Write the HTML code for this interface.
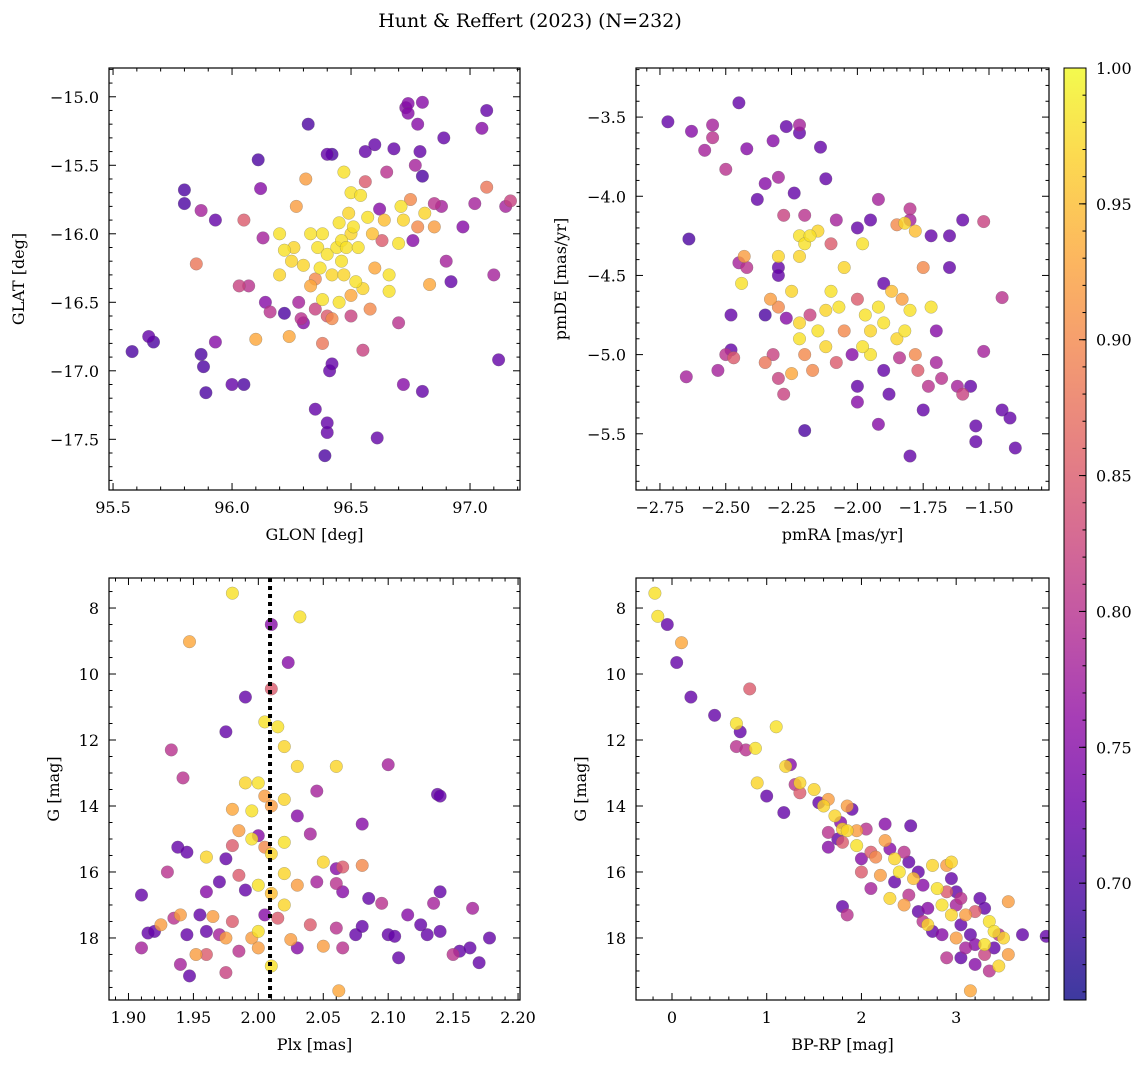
<!DOCTYPE html>
<html><head><meta charset="utf-8"><style>
body{margin:0;background:#fff;}
svg text{font-family:"DejaVu Serif","Liberation Serif",serif;fill:#000;}
</style></head><body>
<svg id="fig" width="1148" height="1067" xmlns="http://www.w3.org/2000/svg">
<text x="530" y="27" font-size="19" text-anchor="middle">Hunt &amp; Reffert (2023) (N=232)</text>
</svg>
<script>
// ---- data arrays: [x, y, membership probability] ----
const skyData = [[95.58,-16.86,.7],[95.65,-16.75,.72],[95.67,-16.79,.7],[95.8,-15.68,.7],[95.8,-15.78,.7],[95.85,-16.22,.88],[95.87,-15.83,.78],[95.87,-16.88,.7],[95.88,-16.97,.7],[95.89,-17.16,.7],[95.93,-16.79,.75],[95.93,-15.9,.72],[96.0,-17.1,.72],[96.05,-17.1,.7],[96.05,-15.9,.85],[96.03,-16.38,.82],[96.07,-16.38,.8],[96.1,-16.77,.93],[96.11,-15.46,.7],[96.12,-15.67,.75],[96.13,-16.03,.78],[96.14,-16.5,.75],[96.16,-16.57,.8],[96.2,-16.3,.97],[96.2,-16.0,.98],[96.22,-16.58,.7],[96.24,-16.75,.93],[96.25,-16.2,.97],[96.26,-16.1,.97],[96.27,-15.8,.92],[96.28,-16.5,.78],[96.29,-16.62,.8],[96.3,-16.65,.75],[96.3,-16.23,.97],[96.31,-15.6,.92],[96.32,-15.2,.7],[96.33,-16.0,.98],[96.33,-16.38,.93],[96.35,-16.33,.9],[96.35,-16.55,.82],[96.35,-17.28,.72],[96.36,-16.1,.98],[96.37,-16.25,.98],[96.38,-16.48,.98],[96.38,-16.0,.98],[96.38,-16.8,.88],[96.4,-16.15,.98],[96.4,-16.6,.85],[96.4,-15.42,.72],[96.42,-15.42,.7],[96.42,-16.62,.9],[96.4,-17.45,.72],[96.4,-17.38,.72],[96.39,-17.62,.7],[96.41,-17.0,.72],[96.42,-16.95,.72],[96.42,-16.3,.97],[96.44,-16.1,.98],[96.45,-15.92,.98],[96.46,-16.05,.98],[96.45,-16.5,.98],[96.46,-16.2,.98],[96.47,-16.3,.97],[96.47,-15.55,.98],[96.48,-16.1,.98],[96.49,-15.85,.97],[96.5,-15.7,.98],[96.5,-16.0,.97],[96.5,-16.45,.93],[96.5,-16.6,.82],[96.51,-15.95,.98],[96.52,-16.35,.98],[96.53,-16.1,.98],[96.54,-15.72,.98],[96.55,-16.4,.97],[96.55,-16.85,.82],[96.56,-15.4,.72],[96.56,-15.62,.85],[96.57,-15.88,.98],[96.58,-16.55,.9],[96.59,-16.0,.95],[96.6,-16.25,.93],[96.6,-15.35,.72],[96.61,-17.49,.72],[96.62,-15.82,.75],[96.63,-16.05,.85],[96.64,-15.9,.95],[96.65,-15.55,.8],[96.66,-16.3,.98],[96.66,-16.42,.98],[96.68,-15.38,.72],[96.7,-16.07,.98],[96.7,-16.65,.8],[96.71,-15.8,.98],[96.72,-15.9,.97],[96.72,-17.1,.75],[96.73,-15.08,.75],[96.74,-15.05,.75],[96.74,-15.12,.75],[96.75,-15.75,.9],[96.76,-16.05,.75],[96.77,-15.5,.78],[96.78,-15.2,.75],[96.78,-15.95,.9],[96.79,-15.4,.72],[96.8,-15.58,.7],[96.8,-17.15,.72],[96.8,-15.04,.75],[96.81,-15.85,.97],[96.83,-16.37,.93],[96.85,-15.95,.92],[96.85,-15.78,.8],[96.88,-15.8,.78],[96.89,-15.3,.72],[96.9,-16.2,.78],[96.92,-16.35,.72],[96.97,-15.95,.75],[97.02,-15.78,.78],[97.05,-15.23,.75],[97.07,-15.1,.72],[97.07,-15.66,.88],[97.1,-16.3,.78],[97.12,-16.92,.72],[97.15,-15.8,.78],[97.17,-15.76,.82],[96.22,-16.12,.98]];
const pmData = [[-2.72,-3.53,.72],[-2.63,-3.59,.75],[-2.58,-3.71,.78],[-2.55,-3.55,.78],[-2.55,-3.63,.8],[-2.45,-3.41,.72],[-2.42,-3.7,.75],[-2.5,-3.83,.8],[-2.38,-4.02,.72],[-2.35,-3.92,.75],[-2.32,-3.65,.75],[-2.3,-3.88,.78],[-2.27,-3.56,.72],[-2.22,-3.55,.78],[-2.22,-3.6,.72],[-2.24,-3.98,.72],[-2.14,-3.69,.72],[-2.12,-3.89,.72],[-2.64,-4.27,.7],[-2.45,-4.42,.78],[-2.43,-4.38,.92],[-2.44,-4.55,.98],[-2.42,-4.45,.8],[-2.28,-4.12,.82],[-2.3,-4.38,.97],[-2.3,-4.45,.72],[-2.3,-4.5,.72],[-2.2,-4.12,.8],[-2.22,-4.25,.98],[-2.2,-4.3,.98],[-2.18,-4.25,.98],[-2.15,-4.22,.97],[-2.22,-4.38,.97],[-2.1,-4.3,.85],[-2.08,-4.15,.78],[-2.0,-4.2,.72],[-1.98,-4.3,.98],[-2.05,-4.45,.97],[-1.95,-4.15,.72],[-1.92,-4.02,.78],[-1.85,-4.18,.9],[-1.82,-4.17,.97],[-1.8,-4.08,.8],[-1.8,-4.15,.78],[-1.78,-4.22,.95],[-1.75,-4.45,.9],[-1.72,-4.25,.72],[-1.65,-4.25,.72],[-1.6,-4.15,.72],[-1.52,-4.16,.82],[-1.65,-4.45,.72],[-1.45,-4.64,.8],[-2.48,-4.75,.72],[-2.48,-4.97,.72],[-2.5,-5.0,.8],[-2.47,-5.02,.85],[-2.53,-5.1,.78],[-2.65,-5.14,.78],[-2.35,-4.75,.7],[-2.33,-4.65,.92],[-2.3,-4.7,.9],[-2.32,-5.0,.82],[-2.3,-5.15,.82],[-2.27,-4.77,.75],[-2.25,-4.6,.97],[-2.22,-4.8,.97],[-2.22,-4.9,.98],[-2.18,-4.75,.82],[-2.2,-5.0,.9],[-2.17,-5.1,.9],[-2.15,-4.85,.98],[-2.12,-4.95,.97],[-2.1,-4.6,.98],[-2.07,-4.7,.98],[-2.05,-4.85,.9],[-2.0,-4.65,.85],[-2.02,-5.0,.75],[-2.0,-5.2,.72],[-2.0,-5.3,.75],[-1.97,-4.75,.98],[-1.95,-4.85,.97],[-1.95,-5.0,.98],[-1.92,-4.7,.98],[-1.9,-4.8,.98],[-1.9,-5.1,.72],[-1.88,-5.25,.72],[-1.85,-4.9,.97],[-1.83,-4.65,.92],[-1.82,-4.85,.98],[-1.8,-4.72,.98],[-1.78,-5.0,.9],[-1.77,-5.1,.85],[-1.75,-5.35,.72],[-1.72,-4.7,.98],[-1.7,-4.85,.75],[-1.7,-5.05,.78],[-1.68,-5.15,.8],[-1.62,-5.2,.78],[-1.6,-5.25,.82],[-1.57,-5.2,.72],[-1.55,-5.45,.72],[-1.55,-5.55,.72],[-1.52,-4.98,.78],[-1.45,-5.35,.72],[-1.42,-5.4,.72],[-1.4,-5.59,.72],[-1.8,-5.64,.72],[-2.2,-5.48,.7],[-1.92,-5.44,.75],[-2.08,-5.05,.85],[-1.98,-4.95,.98],[-2.12,-4.72,.97],[-1.9,-4.55,.72],[-1.87,-4.6,.95],[-2.25,-5.12,.93],[-2.35,-5.05,.88],[-2.28,-5.25,.82],[-1.73,-5.2,.8],[-1.84,-5.02,.8]];
const plxData = [[1.98,7.55,.98],[1.947,9.02,.93],[2.032,8.27,.98],[2.01,8.5,.75],[2.023,9.65,.75],[1.99,10.7,.72],[2.01,10.45,.85],[2.005,11.45,.98],[1.975,11.75,.72],[2.015,11.6,.98],[1.933,12.3,.8],[2.02,12.2,.97],[2.03,12.8,.97],[2.06,12.8,.97],[2.1,12.75,.78],[1.942,13.15,.8],[1.99,13.3,.97],[2.0,13.3,.98],[2.005,13.7,.92],[2.02,13.8,.97],[2.045,13.55,.78],[2.138,13.65,.72],[2.14,13.7,.72],[1.98,14.1,.93],[1.995,14.15,.98],[2.01,14.0,.92],[2.03,14.3,.75],[2.08,14.55,.75],[1.938,15.25,.72],[1.945,15.4,.72],[1.96,15.55,.97],[1.975,15.6,.72],[1.98,15.2,.85],[1.985,14.75,.92],[1.995,15.0,.98],[2.0,14.9,.75],[2.005,15.25,.9],[2.01,15.45,.97],[2.02,15.1,.98],[2.04,14.85,.78],[2.05,15.7,.97],[2.065,15.85,.85],[2.08,15.8,.9],[2.06,15.9,.75],[1.93,16.0,.8],[1.96,16.6,.75],[1.97,16.3,.72],[1.985,16.1,.85],[1.99,16.55,.72],[2.0,16.4,.98],[2.01,16.65,.95],[2.02,16.05,.97],[2.03,16.4,.92],[2.045,16.3,.78],[2.06,16.35,.8],[2.065,16.6,.75],[2.085,16.8,.72],[1.91,16.7,.72],[1.915,17.85,.72],[1.92,17.8,.72],[1.925,17.6,.92],[1.935,17.4,.8],[1.94,17.3,.92],[1.945,17.9,.72],[1.952,18.5,.92],[1.955,17.3,.72],[1.96,17.8,.72],[1.965,17.35,.92],[1.97,17.9,.78],[1.975,18.0,.92],[1.98,17.5,.85],[1.985,18.4,.8],[1.995,18.0,.92],[2.0,17.8,.98],[2.005,17.3,.75],[2.01,18.85,.98],[2.015,17.4,.85],[2.02,17.0,.97],[2.025,18.05,.92],[2.03,18.3,.75],[2.04,17.6,.85],[2.05,18.25,.92],[2.06,17.7,.8],[2.065,18.3,.8],[2.062,19.6,.93],[2.075,17.9,.72],[2.08,17.65,.72],[2.095,16.95,.8],[2.1,17.9,.72],[2.108,18.6,.72],[2.115,17.3,.75],[2.125,17.6,.72],[2.13,17.9,.72],[2.135,16.95,.78],[2.14,17.8,.72],[2.15,18.5,.8],[2.155,18.4,.72],[2.163,18.3,.72],[2.165,17.1,.78],[2.17,18.75,.72],[2.178,18.0,.72],[1.91,18.3,.78],[1.94,18.8,.78],[1.947,19.15,.72],[1.975,19.05,.82],[2.0,18.3,.92],[1.96,18.5,.85],[2.14,16.6,.72],[2.105,17.95,.72]];
const cmdData = [[-0.18,7.55,.98],[-0.15,8.25,.98],[-0.05,8.5,.72],[0.1,9.05,.93],[0.05,9.65,.72],[0.2,10.7,.72],[0.82,10.45,.85],[0.45,11.25,.72],[0.68,11.5,.98],[0.72,11.75,.72],[1.1,11.6,.98],[0.68,12.2,.8],[0.78,12.3,.8],[0.88,12.25,.98],[1.25,12.75,.75],[1.2,12.8,.97],[0.9,13.3,.97],[1.3,13.35,.8],[1.35,13.3,.97],[1.0,13.7,.72],[1.35,13.6,.85],[1.5,13.5,.97],[1.18,14.2,.72],[1.55,13.9,.72],[1.65,13.8,.92],[1.6,14.0,.97],[1.72,14.3,.97],[1.85,14.0,.92],[1.9,14.1,.72],[1.78,14.5,.75],[1.65,14.8,.8],[1.75,15.0,.72],[1.8,14.7,.97],[1.85,14.75,.97],[1.95,14.75,.92],[2.05,14.7,.8],[2.25,14.55,.75],[2.52,14.6,.72],[1.65,15.25,.75],[1.8,15.1,.85],[1.95,15.2,.98],[2.0,15.6,.75],[2.1,15.4,.85],[2.15,15.55,.9],[2.25,15.05,.92],[2.3,15.3,.75],[2.35,15.6,.97],[2.45,15.4,.8],[2.5,15.7,.72],[2.6,16.0,.72],[2.2,16.1,.92],[2.4,16.0,.98],[2.55,16.2,.95],[2.65,16.4,.75],[2.75,15.8,.97],[2.9,15.8,.92],[2.8,16.5,.98],[2.9,16.6,.85],[2.95,16.2,.72],[3.0,16.6,.72],[3.05,16.8,.8],[2.3,16.8,.97],[2.45,17.0,.92],[2.6,17.2,.72],[2.7,17.1,.75],[2.75,17.8,.72],[2.85,17.0,.98],[2.95,17.3,.97],[3.0,17.0,.78],[3.05,17.6,.72],[3.1,17.3,.92],[3.15,17.9,.72],[3.2,17.2,.85],[3.25,16.8,.72],[3.3,17.1,.72],[3.35,17.5,.98],[3.4,17.8,.98],[3.45,17.9,.8],[3.5,18.0,.97],[3.55,18.5,.92],[3.55,16.9,.92],[3.7,17.9,.72],[3.95,17.95,.72],[3.1,18.3,.78],[3.2,18.8,.75],[3.3,18.5,.82],[3.35,19.0,.8],[3.45,18.85,.97],[3.15,19.6,.93],[3.05,18.6,.72],[2.9,18.6,.8],[1.85,17.3,.8],[1.8,17.05,.72],[2.0,16.0,.85],[2.1,16.5,.78],[2.35,16.3,.72],[2.5,16.7,.8],[2.65,17.5,.8],[2.7,17.6,.97],[2.85,17.9,.75],[3.0,18.0,.92],[3.2,18.2,.75],[3.3,18.2,.98],[3.4,18.3,.72],[2.95,15.7,.97]];
const plxLine = [2.009];
const cbTicks = [0.70,0.75,0.80,0.85,0.90,0.95,1.00];

const NS='http://www.w3.org/2000/svg';
const svg=document.getElementById('fig');
function mk(tag,attrs,parent){const e=document.createElementNS(NS,tag);for(const k in attrs)e.setAttribute(k,attrs[k]);(parent||svg).appendChild(e);return e;}
const VMIN=0.657,VMAX=1.0;
const stops=['#0d0887','#41049d','#6a00a8','#8f0da4','#b12a90','#cc4778','#e16462','#f2844b','#fca636','#fcce25','#f0f921'];
function hx(h){return [1,3,5].map(i=>parseInt(h.substr(i,2),16));}
function cmap(v){let t=(v-VMIN)/(VMAX-VMIN);t=Math.max(0,Math.min(1,t));const f=t*10,i=Math.min(9,Math.floor(f)),r=f-i;const a=hx(stops[i]),b=hx(stops[i+1]);return 'rgb('+a.map((c,k)=>Math.round(c+(b[k]-c)*r)).join(',')+')';}
function fmt(v,d){return (v<-1e-9?'\u2212':'')+Math.abs(v).toFixed(d);}

function panel(o){
  const g=mk('g',{});
  
  
  const X=v=>o.x0+(v-o.xmin)/(o.xmax-o.xmin)*o.w;
  const Y=o.inv?(v=>o.y0+(v-o.ymin)/(o.ymax-o.ymin)*o.h):(v=>o.y0+(o.ymax-v)/(o.ymax-o.ymin)*o.h);
  const pts=o.data.slice().sort((a,b)=>a[2]-b[2]);
  const clip='c'+o.name;
  const cp=mk('clipPath',{id:clip},g);mk('rect',{x:o.x0,y:o.y0,width:o.w,height:o.h},cp);
  const pg=mk('g',{'clip-path':'url(#'+clip+')'},g);
  pts.forEach(p=>{const c=mk('circle',{cx:X(p[0]).toFixed(1),cy:Y(p[1]).toFixed(1),r:6.3,fill:cmap(p[2]),'fill-opacity':0.8,stroke:'#666','stroke-opacity':0.5,'stroke-width':0.5},pg);
    
    });
  if(o.vline){o.vline.forEach(v=>{const l=mk('line',{x1:X(v),x2:X(v),y1:o.y0,y2:o.y0+o.h,stroke:'#000','stroke-width':4,'stroke-dasharray':'4,4'},g);
    
    });}
  mk('rect',{x:o.x0,y:o.y0,width:o.w,height:o.h,fill:'none',stroke:'#000','stroke-width':1.2},g);
  for(let v=Math.ceil(o.xmin/o.xmi-1e-6)*o.xmi;v<=o.xmax+1e-9;v+=o.xmi){
    const maj=Math.abs(v/o.xma-Math.round(v/o.xma))<1e-4;const L=maj?7:3.5;const x=X(v);
    mk('line',{x1:x,x2:x,y1:o.y0+o.h,y2:o.y0+o.h-L,stroke:'#000','stroke-width':1},g);
    mk('line',{x1:x,x2:x,y1:o.y0,y2:o.y0+L,stroke:'#000','stroke-width':1},g);
    if(maj){const t=mk('text',{x:x,y:o.y0+o.h+23,'font-size':16,'text-anchor':'middle'},g);t.textContent=fmt(v,o.xd);}
  }
  for(let v=Math.ceil(o.ymin/o.ymi-1e-6)*o.ymi;v<=o.ymax+1e-9;v+=o.ymi){
    const maj=Math.abs(v/o.yma-Math.round(v/o.yma))<1e-4;const L=maj?7:3.5;const y=Y(v);
    mk('line',{x1:o.x0,x2:o.x0+L,y1:y,y2:y,stroke:'#000','stroke-width':1},g);
    mk('line',{x1:o.x0+o.w,x2:o.x0+o.w-L,y1:y,y2:y,stroke:'#000','stroke-width':1},g);
    if(maj){const t=mk('text',{x:o.x0-10,y:y+6,'font-size':16,'text-anchor':'end'},g);t.textContent=fmt(v,o.yd);}
  }
  const xt=mk('text',{x:o.x0+o.w/2,y:o.y0+o.h+50,'font-size':16,'text-anchor':'middle'},g);xt.textContent=o.xl;
  
  
  const yx=o.x0-o.yoff;const yy=o.y0+o.h/2;
  const yt=mk('text',{x:yx,y:yy,'font-size':16,'text-anchor':'middle',transform:'rotate(-90 '+yx+' '+yy+')'},g);yt.textContent=o.yl;
  
  
}
panel({name:'sky-panel',data:skyData,x0:109,y0:68,w:411,h:422,xmin:95.483,xmax:97.21,ymin:-17.87,ymax:-14.79,xma:0.5,xmi:0.1,yma:0.5,ymi:0.1,xd:1,yd:1,xl:'GLON [deg]',yl:'GLAT [deg]',yoff:85});
panel({name:'proper-motion-panel',data:pmData,x0:636,y0:68,w:413,h:422,xmin:-2.841,xmax:-1.272,ymin:-5.855,ymax:-3.19,xma:0.25,xmi:0.05,yma:0.5,ymi:0.1,xd:2,yd:1,xl:'pmRA [mas/yr]',yl:'pmDE [mas/yr]',yoff:70});
panel({name:'parallax-panel',data:plxData,x0:109,y0:578,w:411,h:422,xmin:1.885,xmax:2.2015,ymin:7.09,ymax:19.88,inv:true,xma:0.05,xmi:0.01,yma:2,ymi:0.5,xd:2,yd:0,xl:'Plx [mas]',yl:'G [mag]',yoff:50,vline:plxLine});
panel({name:'cmd-panel',data:cmdData,x0:636,y0:578,w:413,h:422,xmin:-0.38,xmax:3.98,ymin:7.09,ymax:19.88,inv:true,xma:1,xmi:0.2,yma:2,ymi:0.5,xd:0,yd:0,xl:'BP-RP [mag]',yl:'G [mag]',yoff:50});
</script>
<script>
(function(){
  const g=mk('g',{});
  
  
  const defs=mk('defs',{},g);const lg=mk('linearGradient',{id:'cbg',x1:0,y1:1,x2:0,y2:0},defs);
  stops.forEach((s,i)=>mk('stop',{offset:i/10,'stop-color':s,'stop-opacity':0.8},lg));
  const x0=1064,y0=68,w=22,h=932;
  mk('rect',{x:x0,y:y0,width:w,height:h,fill:'url(#cbg)'},g);
  mk('rect',{x:x0,y:y0,width:w,height:h,fill:'none',stroke:'#000','stroke-width':1},g);
  const Y=v=>y0+(VMAX-v)/(VMAX-VMIN)*h;
  for(let v=0.66;v<=1.0001;v+=0.01){const y=Y(v);mk('line',{x1:x0+w,x2:x0+w-3.5,y1:y,y2:y,stroke:'#000'},g);}
  cbTicks.forEach(v=>{const y=Y(v);mk('line',{x1:x0+w,x2:x0+w-7,y1:y,y2:y,stroke:'#000'},g);
    const t=mk('text',{x:x0+w+10,y:y+6,'font-size':16},g);t.textContent=v.toFixed(2);});
})();
</script>
</body></html>
